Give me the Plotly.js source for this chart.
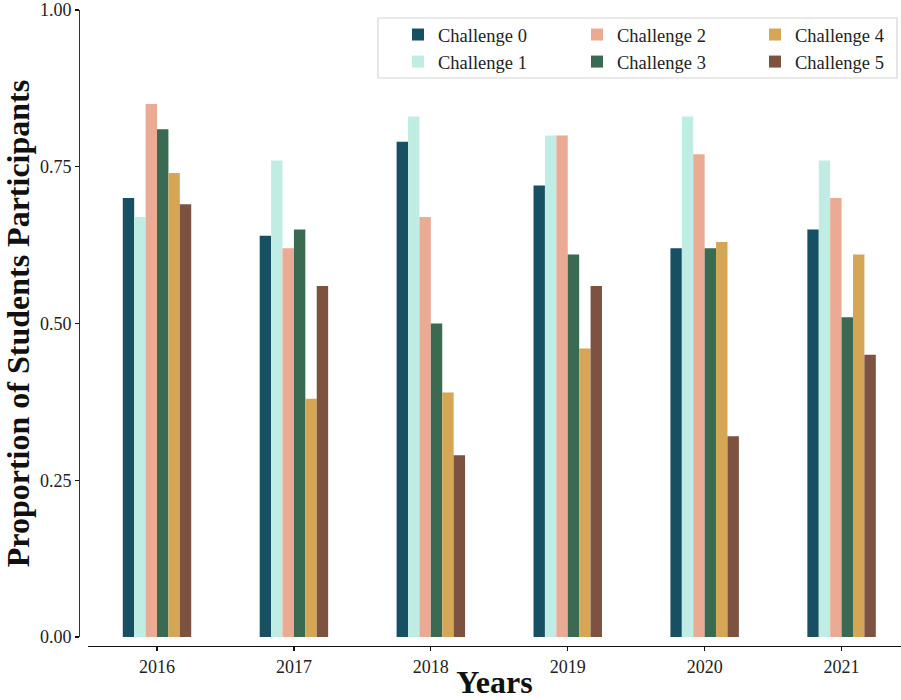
<!DOCTYPE html>
<html>
<head>
<meta charset="utf-8">
<script src="https://cdn.plot.ly/plotly-3.0.1.min.js"></script>
<style>html,body{margin:0;padding:0;background:#fff;}#chart{width:901px;height:700px;}</style>
</head>
<body>
<div id="chart"></div>
<script>
const years = ["2016", "2017", "2018", "2019", "2020", "2021"];
const seriesNames = ["Challenge 0", "Challenge 1", "Challenge 2", "Challenge 3", "Challenge 4", "Challenge 5"];
const challenge0 = [0.70, 0.64, 0.79, 0.72, 0.62, 0.65];
const challenge1 = [0.67, 0.76, 0.83, 0.80, 0.83, 0.76];
const challenge2 = [0.85, 0.62, 0.67, 0.80, 0.77, 0.70];
const challenge3 = [0.81, 0.65, 0.50, 0.61, 0.62, 0.51];
const challenge4 = [0.74, 0.38, 0.39, 0.46, 0.63, 0.61];
const challenge5 = [0.69, 0.56, 0.29, 0.56, 0.32, 0.45];
const colors = ["#174f63", "#c0ede3", "#eaaa94", "#3a6a51", "#d4a656", "#7d5241"];
const legendColumn = ["legend", "legend", "legend2", "legend2", "legend3", "legend3"];

const allSeries = [challenge0, challenge1, challenge2, challenge3, challenge4, challenge5];
const font = "Liberation Serif, DejaVu Serif, serif";

const traces = allSeries.map((vals, i) => ({
  type: "bar",
  name: seriesNames[i],
  x: years,
  y: vals,
  marker: {color: colors[i], line: {width: 0}},
  legend: legendColumn[i],
  hoverinfo: "x+y+name"
}));

const W = 901 - 79;
const H = 636;
const px2x = p => (p - 79) / W;
const px2y = p => (646 - p) / H;

function legendAt(leftPx) {
  return {
    orientation: "v",
    x: px2x(leftPx), xanchor: "left",
    y: px2y(16), yanchor: "top",
    borderwidth: 0,
    bgcolor: "rgba(0,0,0,0)",
    font: {family: font, size: 18.5, color: "#222"},
    tracegroupgap: 0,
    itemwidth: 30
  };
}

const layout = {
  width: 901,
  height: 700,
  margin: {l: 79, r: 0, t: 10, b: 54, pad: 0},
  paper_bgcolor: "#ffffff",
  plot_bgcolor: "#ffffff",
  barmode: "group",
  bargap: 0.5,
  bargroupgap: 0,
  font: {family: font, color: "#222"},
  showlegend: true,
  legend: legendAt(398),
  legend2: legendAt(577),
  legend3: legendAt(755),
  shapes: [{
    type: "rect", xref: "paper", yref: "paper",
    x0: px2x(378), x1: px2x(897), y0: px2y(78), y1: px2y(18),
    line: {color: "#d4d4d4", width: 1.2},
    fillcolor: "rgba(255,255,255,0.8)",
    layer: "below"
  }],
  xaxis: {
    type: "category",
    domain: [9 / W, 1],
    range: [-0.504, 5.434],
    anchor: "free",
    position: 0,
    showline: true,
    linecolor: "#111",
    linewidth: 1.2,
    ticks: "outside",
    ticklen: 4,
    tickwidth: 1.2,
    tickcolor: "#111",
    showgrid: false,
    zeroline: false,
    tickfont: {family: font, size: 18, color: "#222"},
    title: {text: "<b>Years</b>", font: {family: font, size: 32, color: "#111"}, standoff: 4}
  },
  yaxis: {
    domain: [9 / H, 1],
    range: [0, 1],
    anchor: "free",
    position: 0,
    showline: true,
    linecolor: "#333",
    linewidth: 1.2,
    ticks: "outside",
    ticklen: 4,
    tickwidth: 1.2,
    tickcolor: "#111",
    tickvals: [0, 0.25, 0.5, 0.75, 1.0],
    ticktext: ["0.00", "0.25", "0.50", "0.75", "1.00"],
    showgrid: false,
    zeroline: false,
    tickfont: {family: font, size: 18, color: "#222"},
    title: {text: "<b>Proportion of Students Participants</b>", font: {family: font, size: 32, color: "#111"}, standoff: 4}
  }
};

Plotly.newPlot("chart", traces, layout, {displayModeBar: false, staticPlot: true});
</script>
</body>
</html>
